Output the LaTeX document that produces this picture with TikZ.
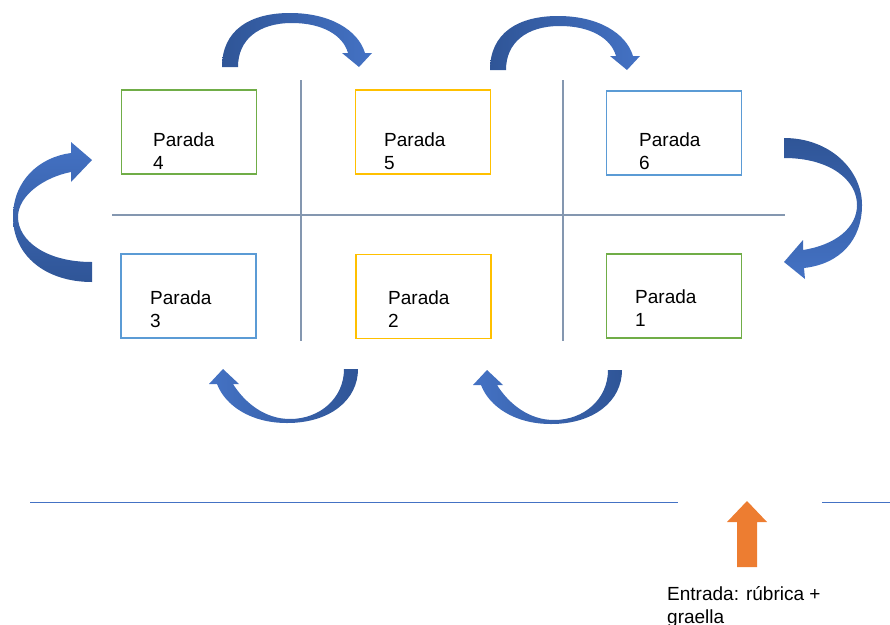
\documentclass[tikz,border=0pt]{standalone}
\usepackage{fontspec}
\setmainfont{Liberation Sans}
\definecolor{dkblue}{HTML}{2F5597}
\definecolor{ltblue}{HTML}{4472C4}
\definecolor{gridc}{HTML}{8497B0}
\definecolor{boxgreen}{HTML}{70AD47}
\definecolor{boxgold}{HTML}{FFC000}
\definecolor{boxblue}{HTML}{5B9BD5}
\definecolor{orangec}{HTML}{ED7D31}
\tikzset{
  parada/.style={draw=#1, line width=1.5pt, minimum width=135pt, minimum height=84pt, inner sep=0pt},
  lbl/.style={anchor=base west, inner sep=0pt, align=left, font=\fontsize{19}{23}\selectfont},
  gridline/.style={draw=gridc, line width=1.1pt},
}
\begin{document}
\begin{tikzpicture}[x=1pt,y=-1pt]
\useasboundingbox (0,0) rectangle (890,624);

% grid
\coordinate (hl) at (112,215); \coordinate (hr) at (785,215);
\coordinate (v1t) at (301,80); \coordinate (v1b) at (301,341);
\coordinate (v2t) at (563,80); \coordinate (v2b) at (563,341);
\draw[gridline] (hl) -- (hr);
\draw[gridline] (v1t) -- (v1b);
\draw[gridline] (v2t) -- (v2b);

% boxes
\node[parada=boxgreen] (b4) at (189,132) {};
\node[parada=boxgold]  (b5) at (423,132) {};
\node[parada=boxblue]  (b6) at (674,133) {};
\node[parada=boxblue]  (b3) at (188.5,296) {};
\node[parada=boxgold]  (b2) at (423.5,296.5) {};
\node[parada=boxgreen] (b1) at (674,296) {};

% labels (base anchor = last line's baseline)
\node[lbl] (t4) at (153,169) {Parada\\4};
\node[lbl] (t5) at (384,169) {Parada\\5};
\node[lbl] (t6) at (639,169) {Parada\\6};
\node[lbl] (t3) at (150,327) {Parada\\3};
\node[lbl] (t2) at (388,327) {Parada\\2};
\node[lbl] (t1) at (635,326) {Parada\\1};

% top arrows (4 -> 5, 5 -> 6)
\foreach \dx/\dy in {0/0, 268/3} {
\begin{scope}[shift={(\dx,\dy)}]
\path[left color=dkblue, right color=ltblue]
  (222,67) .. controls (222,30) and (250,13) .. (290,13)
  .. controls (330,13) and (358,30) .. (365,53)
  -- (372,53) -- (359,67) -- (342,53) -- (348,53)
  .. controls (343,35) and (322,23) .. (292,23)
  .. controls (258,23) and (238,40) .. (238,67) -- cycle;
\end{scope}
}

% left arrow (3 -> 4)
\path[bottom color=dkblue, top color=ltblue]
  (92,282) .. controls (45,282) and (13,255) .. (13,217)
  .. controls (13,180) and (40,157) .. (71,153)
  -- (71,142) -- (92,160) -- (71,182) -- (71,172)
  .. controls (45,177) and (18,195) .. (18,217)
  .. controls (18,240) and (45,262) .. (92,262) -- cycle;

% right arrow (6 -> 1)
\path[top color=dkblue, bottom color=ltblue]
  (784,138) .. controls (830,138) and (862,170) .. (862,205)
  .. controls (862,240) and (840,264) .. (804,268)
  -- (805,279) -- (784,262) -- (803,240) -- (803,250)
  .. controls (835,245) and (857,228) .. (857,205)
  .. controls (857,180) and (830,158) .. (784,158) -- cycle;

% bottom arrows (2 -> 3, 1 -> 2)
\foreach \dx/\dy in {0/0, 264/1} {
\begin{scope}[shift={(\dx,\dy)}]
\path[right color=dkblue, left color=ltblue]
  (358,369) .. controls (358,400) and (330,423) .. (287,423)
  .. controls (250,423) and (225,405) .. (217,384)
  -- (209,384) -- (223,369) -- (239,384) -- (233,384)
  .. controls (245,403) and (265,419) .. (290,419)
  .. controls (320,419) and (344,398) .. (344,369) -- cycle;
\end{scope}
}

% bottom line
\coordinate (l1a) at (30,502); \coordinate (l1b) at (678,502);
\coordinate (l2a) at (822,502); \coordinate (l2b) at (890,502);
\draw[ltblue, line width=0.9pt] (l1a) -- (l1b);
\draw[ltblue, line width=0.9pt] (l2a) -- (l2b);

% orange arrow
\fill[orangec] (737,567) -- (737,522) -- (727,522) -- (747,501) -- (767,522) -- (757,522) -- (757,567) -- cycle;

\node[lbl] (entrada) at (667,623) {Entrada: rúbrica +\\graella};
\end{tikzpicture}
\end{document}
